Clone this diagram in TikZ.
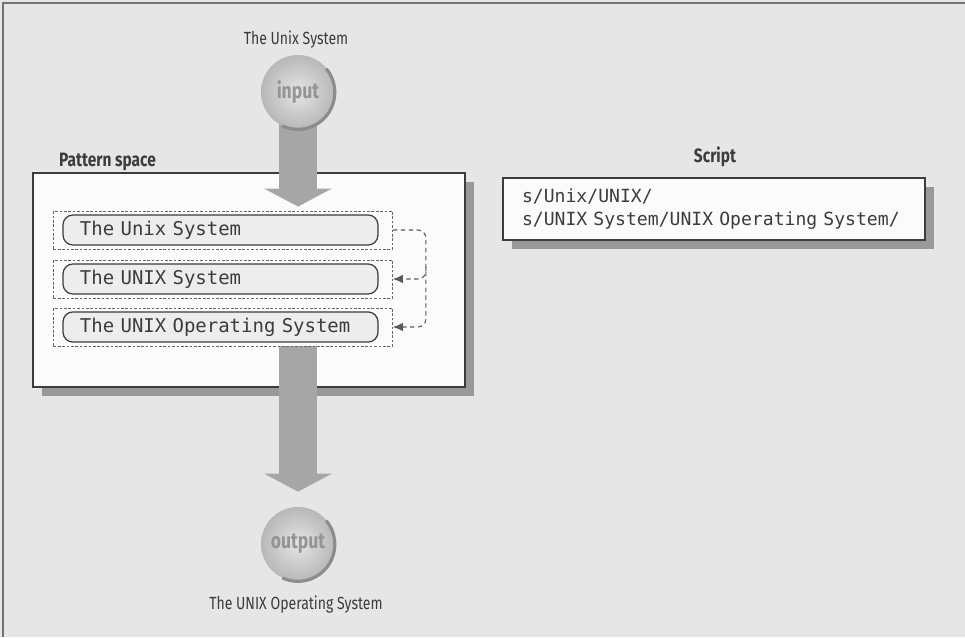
\documentclass[tikz,border=0pt]{standalone}
\usepackage{fontspec}
\setmainfont{Fira Sans}[FakeStretch=0.8]
\setmonofont{DejaVu Sans Mono}
\usetikzlibrary{arrows.meta,shadows,calc}
\definecolor{ink}{RGB}{62,58,64}
\definecolor{paper}{RGB}{230,230,230}
\pgfdeclarelayer{back}
\pgfdeclarelayer{flow}
\pgfsetlayers{back,flow,main}
\tikzset{
	panel/.style={draw=ink, line width=0.9pt, fill=white!97!gray,
		drop shadow={shadow xshift=1.8mm, shadow yshift=-1.8mm, fill=black!40, opacity=1}},
	slot/.style={draw=black!60, dash pattern=on 1.5pt off 1pt, line width=0.5pt,
		minimum width=67.8mm, minimum height=7.6mm, inner sep=0pt},
	entry/.style={draw=ink, line width=0.7pt, fill=black!7, rounded corners=2mm,
		minimum height=5.8mm, text width=56.2mm, inner xsep=3.4mm, align=left,
		font=\ttfamily\fontsize{10.8}{13}\selectfont, text=ink},
	disc/.style={circle, minimum size=14.8mm, inner color=black!10, outer color=black!28,
		text=black!42, font=\bfseries\fontsize{12.5}{14}\selectfont},
	rim/.style={draw=black!45, line width=1.8pt},
	pipe/.style={draw=black!35, line width=7.6mm, -{Triangle[width=13.4mm,length=3.6mm]}},
	relay/.style={draw=black!65, dash pattern=on 2.5pt off 2pt, line width=0.6pt,
		-{Latex[length=2mm,width=1.7mm]}, rounded corners=1.6mm},
	caption/.style={text=ink, font=\fontsize{10}{12}\selectfont},
	heading/.style={text=ink, font=\bfseries\fontsize{11}{13}\selectfont}
}
\begin{document}
\begin{tikzpicture}[x=0.2mm, y=-0.2mm]
	\useasboundingbox (0,0) rectangle (965,637);
	\begin{pgfonlayer}{back}
		\fill[paper] (0,0) rectangle (965,637);
		\draw[black!55, line width=0.8pt] (3,637) -- (3,3) -- (965,3);
		\node[panel, minimum width=86.4mm, minimum height=42.8mm] (pspace) at (249,280) {};
	\end{pgfonlayer}
	\node[heading, anchor=base west] (pslabel) at (53,166) {Pattern space};

	\node[slot] (slot1) at (223,230) {};
	\node[slot] (slot2) at (223,279) {};
	\node[slot] (slot3) at (223,327) {};
	\node[entry] (line1) at (220.5,230) {The Unix System};
	\node[entry] (line2) at (220.5,279) {The UNIX System};
	\node[entry] (line3) at (220.5,327) {The UNIX Operating System};

	\coordinate (rail) at ($(slot1.east)+(33,0)$);
	\coordinate (fork) at ($(rail |- slot2.east)+(0,-12)$);
	\draw[relay] (slot1.east) -- (rail) |- (slot3.east);
	\draw[relay] (fork) |- (slot2.east);

	\node[disc] (input) at (298,92) {input};
	\node[disc] (output) at (298,544) {output};
	\draw[rim] (input.-115) arc[start angle=-115, end angle=40, radius=7.4mm];
	\draw[rim] (output.-115) arc[start angle=-115, end angle=40, radius=7.4mm];
	\node[caption] (intext) at (296,40) {The Unix System};
	\node[caption] (outtext) at (296,605) {The UNIX Operating System};

	\begin{pgfonlayer}{flow}
		\draw[pipe, shorten >=0.8mm] (input.center) -- (input |- slot1.north);
		\draw[pipe, shorten >=3mm] (output |- slot3.south) -- (output.north);
	\end{pgfonlayer}

	\node[heading] (sclabel) at (715,157) {Script};
	\node[panel, text width=76.8mm, inner xsep=3.8mm, minimum height=12.4mm, align=left,
		text=ink, font=\ttfamily\fontsize{10.3}{13.5}\selectfont] (script) at (714,209)
		{\mbox{s/Unix/UNIX/}\\\mbox{s/UNIX System/UNIX Operating System/}};
\end{tikzpicture}
\end{document}
